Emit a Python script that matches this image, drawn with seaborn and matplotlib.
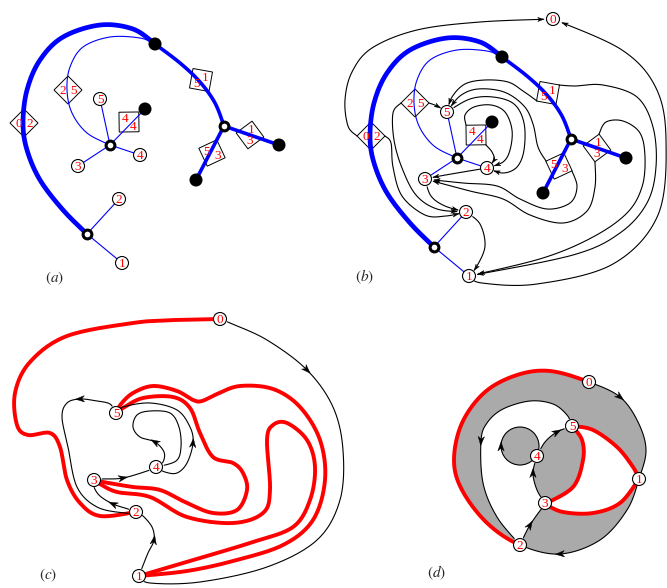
import numpy as np
import matplotlib
matplotlib.use("Agg")
import matplotlib.pyplot as plt
from matplotlib.patches import Circle, Polygon
import seaborn as sns

# ---------- panel (a): blue tree, pixel coordinates (panel (b) = same, shifted) ----------
ring_pts = [(87, 234), (110, 145), (224, 126)]
dot_pts = [(155, 44), (145, 109), (279, 145), (196, 180)]
node_ids = ["1", "2", "3", "4", "5"]
node_pts = [(122, 263), (119, 199), (78, 166), (140, 155), (100, 99)]
thick_arc_lo = [(87, 234), (63, 210), (40, 180), (27, 150), (23, 123), (27, 90), (40, 60),
                (63, 37), (100, 25), (133, 29), (155, 44)]
thick_arc_hi = [(155, 44), (180, 63), (200, 82), (215, 103), (224, 126)]
thin_arc = [(155, 44), (140, 38), (110, 37), (83, 47), (70, 67), (67, 90), (72, 113),
            (87, 133), (110, 145)]
thick_edges = [(2, 2), (2, 3)]                      # ring -> dot
thin_edges = [(1, "5"), (1, "3"), (1, "4"), (0, "2"), (0, "1")]  # ring -> node
thin_dot_edges = [(1, 1)]                          # ring -> dot
diamond_xy = [(24, 123), (68, 90), (201, 80), (129, 122), (212, 153), (250, 135)]
diamond_dir = [(0, 1), (0, 1), (0.57, 0.82), (35, -36), (-0.34, 0.94), (-1, -0.15)]
diamond_lab = [("0", "2"), ("2", "5"), ("5", "1"), ("4", "4"), ("5", "3"), ("1", "3")]
shift_b = (347, 13)
node0_b = (553, 19)

# ---------- panel (b): black dual curves ----------
b_curves = [
    [(357, 136), (348, 126), (345, 100), (352, 72), (372, 48), (417, 30), (480, 22), (553, 19)],
    [(469, 276), (482, 283), (537, 284), (613, 264), (658, 215), (666, 140), (656, 88), (622, 50), (553, 19)],
    [(559, 85), (575, 86), (603, 85), (637, 97), (653, 127), (656, 167), (647, 203), (620, 233), (573, 255), (469, 276)],
    [(599, 134), (606, 122), (623, 121), (640, 133), (645, 157), (642, 187), (627, 213), (593, 237), (543, 258), (469, 276)],
    [(466, 212), (480, 224), (485, 246), (477, 266), (469, 276)],
    [(385, 136), (391, 143), (393, 167), (402, 196), (425, 215), (446, 216), (466, 212)],
    [(401, 103), (393, 113), (394, 140), (402, 168), (416, 195), (437, 209), (466, 212)],
    [(425, 179), (431, 196), (445, 206), (466, 212)],
    [(429, 103), (437, 106), (447, 112)],
    [(537, 101), (523, 91), (508, 82), (485, 80), (465, 84), (452, 97), (447, 112)],
    [(546, 161), (538, 147), (533, 124), (524, 106), (504, 92), (478, 89), (460, 96), (447, 112)],
    [(447, 112), (470, 99), (493, 97), (514, 104), (524, 123), (524, 150), (517, 167), (503, 173), (487, 168)],
    [(466, 125), (465, 115), (474, 107), (491, 105), (505, 112), (512, 130), (510, 150), (503, 162), (487, 168)],
    [(486, 145), (492, 152), (494, 160), (487, 168)],
    [(487, 168), (463, 172), (440, 176), (425, 179)],
    [(572, 171), (577, 187), (570, 203), (547, 209), (520, 199), (497, 186), (463, 183), (425, 179)],
    [(595, 162), (595, 187), (587, 211), (563, 223), (530, 215), (503, 199), (470, 191), (425, 179)],
]

# ---------- panel (c) ----------
c_ids = ["0", "5", "4", "3", "2", "1"]
c_pts = [(220, 319), (116, 413), (156, 467), (94, 480), (136, 512), (139, 576)]
c_red = [
    [(220, 319), (175, 320), (133, 323), (67, 336), (30, 362), (15, 393), (17, 425), (28, 435),
     (50, 433), (60, 447), (67, 480), (80, 503), (100, 516), (136, 512)],
    [(116, 413), (121, 404), (133, 393), (153, 386), (177, 391), (193, 400), (202, 401), (217, 394),
     (240, 386), (273, 389), (300, 407), (320, 440), (325, 480), (313, 520), (283, 545), (233, 561),
     (187, 571), (139, 576)],
    [(116, 413), (123, 408), (143, 398), (173, 397), (190, 408), (200, 433), (213, 457), (233, 463),
     (243, 473), (247, 490), (237, 510), (213, 513), (187, 503), (160, 490), (133, 487), (103, 482), (94, 480)],
    [(94, 480), (100, 484), (117, 492), (150, 497), (187, 517), (233, 523), (263, 513), (270, 490),
     (267, 440), (273, 425), (287, 423), (307, 440), (315, 467), (310, 500), (293, 527), (253, 542),
     (200, 558), (139, 576)],
]
c_black = [
    [(220, 319), (230, 323), (267, 340), (307, 370), (333, 407), (343, 450), (340, 500), (317, 540),
     (267, 567), (200, 582), (150, 583), (139, 576)],
    [(139, 576), (142, 568), (148, 553), (154, 540), (152, 527), (142, 515), (136, 512)],
    [(136, 512), (128, 509), (113, 504), (100, 496), (94, 487), (94, 480)],
    [(116, 413), (110, 404), (97, 401), (80, 399), (67, 403), (62, 417), (68, 447), (77, 487),
     (97, 507), (125, 513), (136, 512)],
    [(94, 480), (102, 479), (123, 478), (150, 470), (156, 467)],
    [(156, 467), (165, 472), (177, 473), (187, 463), (193, 443), (190, 427), (177, 410), (150, 403),
     (123, 407), (116, 413)],
    [(156, 467), (163, 462), (164, 452), (155, 442), (140, 437), (133, 427), (137, 415), (150, 411),
     (170, 413), (179, 427), (181, 447), (176, 461), (156, 467)],
]
c_arrow_at = [3, 3, 2, 3, 2, 4, 3]

# ---------- panel (d) ----------
d_ids = ["0", "5", "4", "1", "3", "2"]
d_pts = [(589, 382), (572, 426), (537, 456), (639, 479), (545, 503), (520, 545)]
d_outer = [(550, 371), (589, 382), (620, 397), (638, 422), (646, 450), (639, 479), (627, 510),
           (600, 540), (560, 554), (520, 545), (487, 523), (462, 490), (454, 460), (462, 423),
           (485, 392), (517, 375)]
d_black52 = [(572, 426), (567, 415), (553, 404), (530, 401), (503, 409), (487, 423), (481, 441),
             (483, 483), (497, 517), (520, 545)]
d_red51 = [(572, 426), (593, 430), (617, 447), (633, 467), (639, 479)]
d_red31 = [(545, 504), (563, 512), (593, 513), (620, 503), (639, 479)]
d_red53 = [(572, 426), (582, 440), (583, 460), (573, 487), (545, 504)]
d_black34 = [(545, 503), (537, 490), (533, 473), (537, 456)]
d_black45 = [(537, 456), (545, 442), (557, 432), (572, 426)]
d_black23 = [(520, 545), (530, 525), (545, 504)]
d_loop_c = (520, 446)
d_loop_r = 19

panel_txt = ["(a)", "(b)", "(c)", "(d)"]
panel_xy = [(55, 278), (365, 277), (48, 575), (437, 573)]

BLUE, RED, GRAY = "#0000ff", "#ff0000", "#aaaaaa"
NODE_R = 6.5
N = 16


def smooth(pts, n=N):
    p = np.asarray(pts, float)
    p = np.vstack([p[:1], p, p[-1:]])
    t = np.linspace(0, 1, n, endpoint=False)[:, None]
    segs = []
    for i in range(1, len(p) - 2):
        p0, p1, p2, p3 = p[i - 1], p[i], p[i + 1], p[i + 2]
        segs.append(0.5 * (2 * p1 + (p2 - p0) * t + (2 * p0 - 5 * p1 + 4 * p2 - p3) * t ** 2
                           + (3 * p1 - p0 - 3 * p2 + p3) * t ** 3))
    segs.append(p[-2:-1])
    return np.vstack(segs)


def smooth_closed(pts, n=N):
    p = np.asarray(pts, float)
    m = len(p)
    t = np.linspace(0, 1, n, endpoint=False)[:, None]
    segs = []
    for i in range(m):
        p0, p1, p2, p3 = p[(i - 1) % m], p[i], p[(i + 1) % m], p[(i + 2) % m]
        segs.append(0.5 * (2 * p1 + (p2 - p0) * t + (2 * p0 - 5 * p1 + 4 * p2 - p3) * t ** 2
                           + (3 * p1 - p0 - 3 * p2 + p3) * t ** 3))
    return np.vstack(segs)


def trim(c, r0, r1):
    d0 = np.hypot(*(c - c[0]).T)
    d1 = np.hypot(*(c - c[-1]).T)
    i0 = int(np.argmax(d0 >= r0)) if r0 > 0 else 0
    i1 = len(c) - int(np.argmax(d1[::-1] >= r1)) if r1 > 0 else len(c)
    return c[i0:i1]


def head(ax, tip, vec, L=7.0, W=2.4, z=5):
    d = np.asarray(vec, float)
    d = d / np.hypot(*d)
    nr = np.array([-d[1], d[0]])
    tip = np.asarray(tip, float)
    pts = [tip, tip - L * d + W * nr, tip - 0.7 * L * d, tip - L * d - W * nr]
    ax.add_patch(Polygon(pts, closed=True, fc="black", ec="black", lw=0.3, zorder=z))


def near(p, nodes):
    return any(np.hypot(p[0] - q[0], p[1] - q[1]) < 1.0 for q in nodes)


def curve(ax, pts, nodes, color="black", lw=0.8, z=4, end_arrow=False, mid=None, L=7.0, W=2.4):
    c = smooth(pts)
    if mid is not None:
        k = mid * N
        d = c[k + 2] - c[k - 2]
        d = d / np.hypot(*d)
        head(ax, c[k] + 0.5 * L * d, d, L, W)
    r0 = NODE_R + 0.8 if near(pts[0], nodes) else 0
    r1 = NODE_R + 0.8 if near(pts[-1], nodes) else 0
    c = trim(c, r0, r1)
    ax.plot(c[:, 0], c[:, 1], color=color, lw=lw, zorder=z, solid_capstyle="round")
    if end_arrow:
        head(ax, c[-1], c[-1] - c[-4], L, W)


def node(ax, xy, lab):
    ax.add_patch(Circle(xy, NODE_R, fc="white", ec="black", lw=0.8, zorder=6))
    ax.text(xy[0], xy[1] + 0.9, lab, color="red", ha="center", va="center", fontsize=9.5, zorder=7)


def diamond(ax, c, d, labs, h=14):
    c = np.asarray(c, float)
    d = np.asarray(d, float)
    d = d / np.hypot(*d)
    nr = np.array([-d[1], d[0]])
    verts = [c + h * d, c + h * nr, c - h * d, c - h * nr]
    ax.add_patch(Polygon(verts, closed=True, fc="white", ec="black", lw=0.7, zorder=2))
    for lab, s in zip(labs, (1, -1)):
        p = c + s * 5.5 * nr
        ax.text(p[0], p[1] + 0.9, lab, color="red", ha="center", va="center", fontsize=9.5, zorder=7)


def tree(ax, off):
    o = np.asarray(off, float)
    rings = np.asarray(ring_pts, float) + o
    dots = np.asarray(dot_pts, float) + o
    npts = {k: np.asarray(v, float) + o for k, v in zip(node_ids, node_pts)}
    for arc, lw in ((thick_arc_lo, 3.4), (thick_arc_hi, 2.6)):
        c = smooth(np.asarray(arc, float) + o)
        ax.plot(c[:, 0], c[:, 1], color=BLUE, lw=lw, zorder=3, solid_capstyle="round")
    c = smooth(np.asarray(thin_arc, float) + o)
    ax.plot(c[:, 0], c[:, 1], color=BLUE, lw=0.8, zorder=3)
    for r, d in thick_edges:
        ax.plot([rings[r][0], dots[d][0]], [rings[r][1], dots[d][1]], color=BLUE, lw=2.6, zorder=3)
    for r, k in thin_edges:
        ax.plot([rings[r][0], npts[k][0]], [rings[r][1], npts[k][1]], color=BLUE, lw=0.8, zorder=3)
    for r, d in thin_dot_edges:
        ax.plot([rings[r][0], dots[d][0]], [rings[r][1], dots[d][1]], color=BLUE, lw=0.8, zorder=3)
    for c0, d, labs in zip(diamond_xy, diamond_dir, diamond_lab):
        diamond(ax, np.asarray(c0, float) + o, d, labs)
    sns.scatterplot(x=dots[:, 0], y=dots[:, 1], s=88, color="black", edgecolor="none",
                    ax=ax, legend=False, zorder=6)
    sns.scatterplot(x=rings[:, 0], y=rings[:, 1], s=40, color="white", edgecolor="black",
                    linewidth=2.2, ax=ax, legend=False, zorder=6)
    for k, p in npts.items():
        node(ax, p, k)
    return [tuple(p) for p in npts.values()]


sns.set_theme(style="white")
plt.rcParams["font.family"] = ["Liberation Serif", "DejaVu Serif"]
plt.rcParams["mathtext.fontset"] = "stix"

fig = plt.figure(figsize=(6.67, 5.88), dpi=100)
ax = fig.add_axes([0, 0, 1, 1])
ax.set_xlim(0, 667)
ax.set_ylim(588, 0)
ax.axis("off")

# (a)
tree(ax, (0, 0))

# (b)
b_nodes = tree(ax, shift_b) + [node0_b]
node(ax, node0_b, "0")
for pts in b_curves:
    curve(ax, pts, b_nodes, lw=0.8, end_arrow=True, L=6.0, W=2.1)

# (c)
for pts in c_red:
    c = smooth(pts)
    ax.plot(c[:, 0], c[:, 1], color=RED, lw=2.8, zorder=3, solid_capstyle="round")
for pts, k in zip(c_black, c_arrow_at):
    curve(ax, pts, c_pts, lw=0.8, mid=k, L=9, W=3.2)
for lab, p in zip(c_ids, c_pts):
    node(ax, p, lab)

# (d)
ring = smooth_closed(d_outer)
ax.fill(ring[:, 0], ring[:, 1], color=GRAY, lw=0, zorder=1)
white = np.vstack([smooth(d_black52)[::-1], smooth(d_red51), smooth(d_red31)[::-1],
                   smooth(d_black23)[::-1]])
ax.fill(white[:, 0], white[:, 1], color="white", lw=0, zorder=1.5)
lens = np.vstack([smooth(d_red53), smooth(d_black34), smooth(d_black45)])
ax.fill(lens[:, 0], lens[:, 1], color=GRAY, lw=0, zorder=1.7)
ax.add_patch(Circle(d_loop_c, d_loop_r, fc=GRAY, ec="black", lw=0.8, zorder=2))
head(ax, (d_loop_c[0] - d_loop_r, d_loop_c[1] - 4), (0, -1), 9, 3.2)

red_part = np.vstack([ring[9 * N:], ring[:N + 1]])
ax.plot(red_part[:, 0], red_part[:, 1], color=RED, lw=2.8, zorder=3)
blk01 = ring[N:5 * N + 1]
blk12 = ring[5 * N:9 * N + 1]
for seg, k in ((blk01, N), (blk12, 3 * N)):
    ax.plot(seg[:, 0], seg[:, 1], color="black", lw=0.8, zorder=3)
    d = seg[k + 2] - seg[k - 2]
    d = d / np.hypot(*d)
    head(ax, seg[k] + 4.5 * d, d, 9, 3.2)
for pts in (d_red51, d_red31, d_red53):
    c = smooth(pts)
    ax.plot(c[:, 0], c[:, 1], color=RED, lw=2.8, zorder=3)
for pts, k in ((d_black52, 6), (d_black34, 2), (d_black45, 2), (d_black23, 1)):
    curve(ax, pts, d_pts, lw=0.8, mid=k, L=9, W=3.2)
for lab, p in zip(d_ids, d_pts):
    node(ax, p, lab)

for t, (x, y) in zip(panel_txt, panel_xy):
    ax.text(x, y, "$" + t + "$", fontsize=11, ha="center", va="center")

fig.savefig("out.png", dpi=100)
